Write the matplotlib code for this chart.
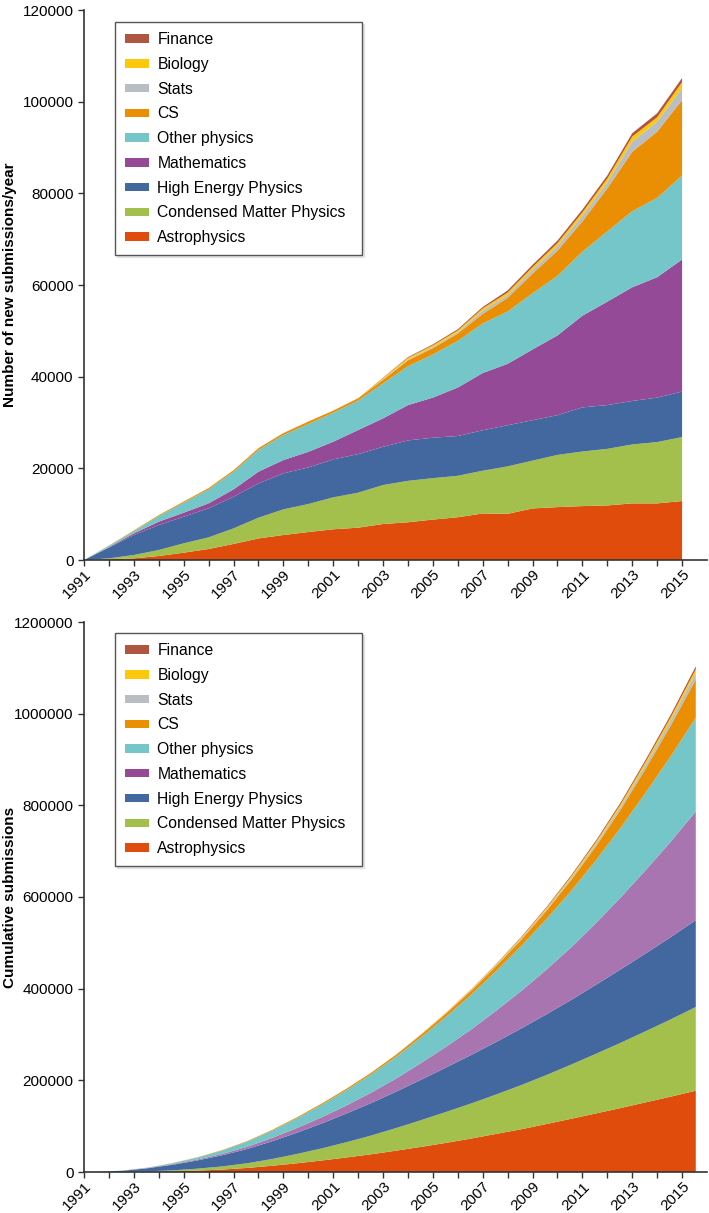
import numpy as np
import matplotlib
matplotlib.use("Agg")
import matplotlib.pyplot as plt
from matplotlib.patches import Patch

plt.rcParams['font.family'] = ['Liberation Sans', 'DejaVu Sans']

years = np.arange(1991, 2016)

# new submissions per year, one list per field
astro = [0, 150, 360, 870, 1600, 2400, 3500, 4700, 5450, 6100, 6700, 7050, 7850,
         8230, 8820, 9330, 10140, 10070, 11250, 11540, 11760, 11900, 12350, 12350, 12860]
cmp_ = [0, 210, 730, 1310, 2040, 2540, 3400, 4530, 5600, 6110, 6970, 7640, 8510,
        9040, 9040, 9045, 9340, 10360, 10430, 11390, 11910, 12350, 12860, 13380, 13970]
hep = [0, 2330, 4360, 5450, 5810, 6330, 6900, 7470, 7850, 7990, 8280, 8410, 8340,
       8820, 8820, 8675, 8820, 8970, 8820, 8670, 9630, 9550, 9490, 9700, 9920]
math = [0, 110, 350, 730, 870, 1090, 1600, 2570, 2900, 3400, 3850, 5250, 6200,
        7710, 8750, 10580, 12500, 13400, 15440, 17400, 20000, 22570, 24800, 26270, 28810]
other = [0, 300, 500, 1240, 2180, 3040, 3870, 4720, 5460, 6060, 6330, 6400, 7630,
         8460, 9410, 10170, 10800, 11400, 12260, 13000, 13950, 15330, 16600, 17300, 18340]
cs = [0, 50, 150, 200, 250, 300, 330, 410, 440, 540, 470, 550, 770,
      1300, 1400, 1600, 2100, 3000, 4300, 5500, 6650, 9400, 12980, 14450, 16460]
stats = [0, 0, 0, 0, 0, 0, 0, 0, 0, 0, 0, 0, 100,
         200, 250, 300, 700, 600, 800, 1000, 1200, 1300, 2200, 2200, 2600]
bio = [0, 0, 0, 0, 0, 0, 0, 0, 0, 0, 0, 0, 250,
       350, 350, 400, 500, 550, 600, 650, 750, 850, 1100, 950, 1300]
fin = [0, 0, 0, 0, 0, 0, 0, 0, 0, 0, 0, 0, 100,
       150, 200, 250, 300, 450, 500, 550, 600, 650, 740, 870, 900]

labels = ["Astrophysics", "Condensed Matter Physics", "High Energy Physics",
          "Mathematics", "Other physics", "CS", "Stats", "Biology", "Finance"]
colors = ["#df4c0c", "#a3c04c", "#43679f", "#944a96", "#74c6c8",
          "#ea8f04", "#b8bec4", "#fcc80a", "#b0553f"]
colors_cum = list(colors)
colors_cum[3] = "#a875b0"   # lower chart has a lighter maths band

series = [astro, cmp_, hep, math, other, cs, stats, bio, fin]
cum = [np.cumsum(s) for s in series]
CUM_SHIFT = 0.55   # cumulative curve sits a bit right of the yearly one

fig = plt.figure(figsize=(7.09, 12.13), dpi=100)
ax1 = fig.add_axes([84/709, 1-560/1213, 623/709, 550/1213])
ax2 = fig.add_axes([84/709, 1-1172/1213, 623/709, 550/1213])

ax1.stackplot(years, *series, colors=colors, linewidth=0)
ax2.stackplot(years + CUM_SHIFT, *cum, colors=colors_cum, linewidth=0)

handles = [Patch(facecolor=c, edgecolor='none', label=l) for c, l in zip(colors, labels)][::-1]

for ax, ymax, step, ylab, legtop in [(ax1, 120000, 20000, "Number of new submissions/year", 0.978),
                                     (ax2, 1200000, 200000, "Cumulative submissions", 0.98)]:
    ax.set_xlim(1991, 2016)
    ax.set_ylim(0, ymax)
    ax.set_yticks(np.arange(0, ymax + 1, step))
    ax.ticklabel_format(axis='y', style='plain', useOffset=False)
    ax.set_xticks(years)
    ax.set_xticklabels([str(y) if y % 2 == 1 else "" for y in years],
                       rotation=45, ha='right', rotation_mode='anchor')
    for s in ['top', 'right']:
        ax.spines[s].set_visible(False)
    for s in ['left', 'bottom']:
        ax.spines[s].set_color('#333333')
        ax.spines[s].set_linewidth(1.2)
    ax.tick_params(axis='both', direction='out', length=4.5, width=1,
                   color='#333333', labelsize=11, pad=3)
    ax.tick_params(axis='x', pad=1)
    ax.set_ylabel(ylab, fontsize=11, fontweight='bold')
    ax.yaxis.set_label_coords(-0.1075, 0.5)
    leg = ax.legend(handles=handles, loc='upper left',
                    bbox_to_anchor=(0.0498, legtop - 0.5, 0.3965, 0.5), mode='expand',
                    borderaxespad=0, fontsize=11.3, frameon=True, fancybox=False,
                    handlelength=1.5, handleheight=0.45, handletextpad=0.55,
                    labelspacing=0.62, borderpad=0.65,
                    shadow={'ox': 1.5, 'oy': -1.5, 'color': '#d0d0d0'})
    leg.get_frame().set_edgecolor('#555555')
    leg.get_frame().set_linewidth(1.0)

fig.savefig("out.png", dpi=100)
